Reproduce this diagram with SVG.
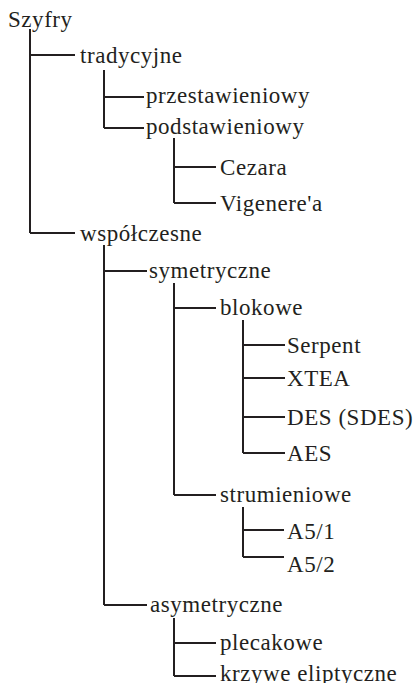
<svg xmlns="http://www.w3.org/2000/svg" width="416" height="683" viewBox="0 0 416 683">
  <style>
    .lbl { font-family: "Liberation Serif", "Times New Roman", Times, serif; font-size: 23px; fill: #231f20; letter-spacing: 0.55px; }
    .edge { stroke: #231f20; stroke-width: 2; fill: none; stroke-linecap: butt; }
  </style>
  <rect width="416" height="683" fill="#ffffff"/>
  <g id="connectors">
    <path class="edge" d="M30 29 V233 M30 55 H75 M30 233 H75"/>
    <path class="edge" d="M104 70 V128 M104 97 H144 M104 128 H144"/>
    <path class="edge" d="M174 138 V203 M174 167 H216 M174 203 H216"/>
    <path class="edge" d="M104 245 V605 M104 271 H147 M104 605 H147"/>
    <path class="edge" d="M174 283 V495 M174 308 H216 M174 495 H216"/>
    <path class="edge" d="M243 320 V453 M243 345 H285 M243 378 H285 M243 417 H285 M243 453 H285"/>
    <path class="edge" d="M243 507 V557 M243 530 H284 M243 557 H284"/>
    <path class="edge" d="M174 618 V676 M174 643 H216 M174 676 H216"/>
  </g>
  <g font-family="'Liberation Serif', 'Times New Roman', Times, serif">
    <g id="n-szyfry"><text class="lbl" x="8" y="27">Szyfry</text></g>
    <g id="n-tradycyjne"><text class="lbl" x="80" y="63">tradycyjne</text></g>
    <g id="n-przestawieniowy"><text class="lbl" x="146" y="103">przestawieniowy</text></g>
    <g id="n-podstawieniowy"><text class="lbl" x="146" y="134">podstawieniowy</text></g>
    <g id="n-cezara"><text class="lbl" x="220" y="175">Cezara</text></g>
    <g id="n-vigenere"><text class="lbl" x="220" y="211">Vigenere'a</text></g>
    <g id="n-wspolczesne"><text class="lbl" x="80" y="241">współczesne</text></g>
    <g id="n-symetryczne"><text class="lbl" x="149" y="278">symetryczne</text></g>
    <g id="n-blokowe"><text class="lbl" x="220" y="315">blokowe</text></g>
    <g id="n-serpent"><text class="lbl" x="287" y="353">Serpent</text></g>
    <g id="n-xtea"><text class="lbl" x="287" y="386">XTEA</text></g>
    <g id="n-des"><text class="lbl" x="287" y="425">DES (SDES)</text></g>
    <g id="n-aes"><text class="lbl" x="287" y="461">AES</text></g>
    <g id="n-strumieniowe"><text class="lbl" x="220" y="502">strumieniowe</text></g>
    <g id="n-a51"><text class="lbl" x="287" y="539">A5/1</text></g>
    <g id="n-a52"><text class="lbl" x="287" y="572">A5/2</text></g>
    <g id="n-asymetryczne"><text class="lbl" x="150" y="612">asymetryczne</text></g>
    <g id="n-plecakowe"><text class="lbl" x="220" y="650">plecakowe</text></g>
    <g id="n-krzywe"><text class="lbl" x="220" y="681">krzywe eliptyczne</text></g>
  </g>
</svg>
